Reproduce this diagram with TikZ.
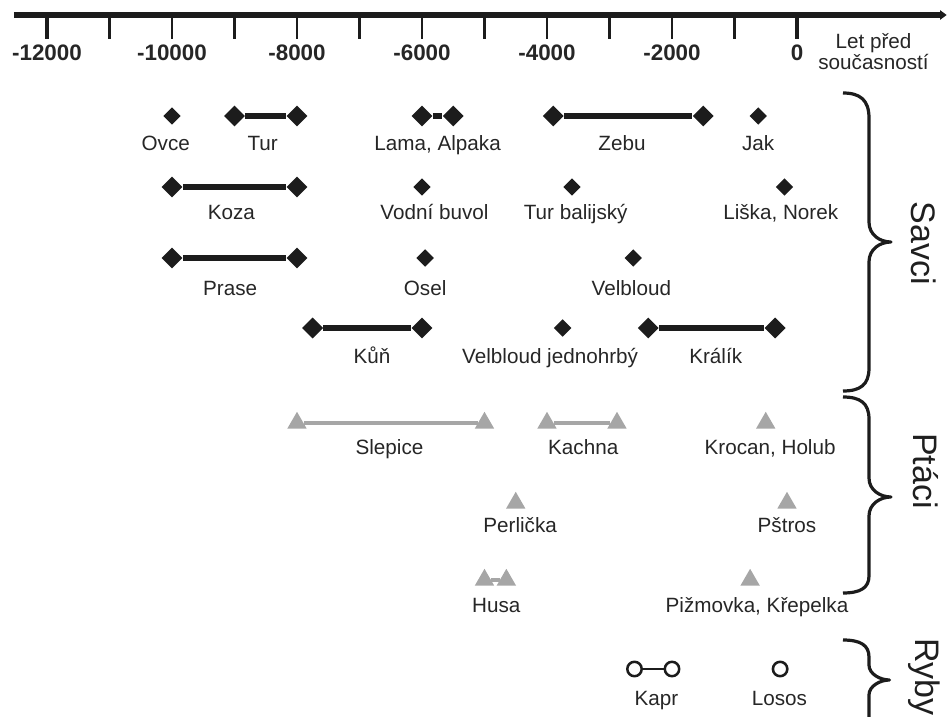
\documentclass[tikz,border=0pt]{standalone}
\usepackage{fontspec}
\setmainfont{Liberation Sans}
\usepackage{xcolor}
\usetikzlibrary{shapes.geometric,arrows.meta}

\definecolor{darkmk}{RGB}{28,28,28}
\definecolor{birdgray}{RGB}{166,166,166}
\definecolor{txtgray}{RGB}{38,38,38}

\begin{document}
\begin{tikzpicture}[x=0.046875pt, y=-0.75pt, line join=round,
	mammal/.style={diamond, fill=darkmk, inner sep=0pt, minimum size=15.8pt},
	mammalsm/.style={mammal, minimum size=13.2pt},
	fowl/.style={regular polygon, regular polygon sides=3, fill=birdgray, inner sep=0pt, minimum size=16.8pt},
	fish/.style={circle, draw=darkmk, line width=1.9pt, inner sep=0pt, minimum size=10.8pt},
	lbl/.style={text=txtgray, font=\fontsize{15.5}{15.75}\selectfont, inner sep=1pt, text height=11.2pt, text depth=0pt},
	unitlbl/.style={text=txtgray, font=\fontsize{15.5}{15.75}\selectfont, inner sep=1pt, align=center},
	ticklbl/.style={text=txtgray, font=\fontsize{16.8}{20}\selectfont\bfseries, inner sep=1pt},
	mbar/.style={darkmk, line width=4pt},
	fbar/.style={birdgray, line width=2.6pt},
	pbar/.style={darkmk, line width=2.2pt},
	grp/.style={darkmk, line width=2.4pt},
	grplbl/.style={text=black!88, font=\fontsize{25.5}{30}\selectfont, rotate=-90}]
	\useasboundingbox (-12752,0) rectangle (2400,717);
	\clip (-12752,0) rectangle (2400,717);
	% time axis
	\coordinate (axL) at (-12528,15);
	\coordinate (axR) at (2395,15);
	\draw[darkmk, line width=4.2pt, -{Triangle[length=5pt,width=7pt]}] (axL) -- (axR);
	\foreach \t in {-11000,-10000,...,-1000}
		\draw[darkmk, line width=2.2pt] (\t,15) -- (\t,39);
	\draw[darkmk, line width=3pt] (-12000,15) -- (-12000,39);
	\draw[darkmk, line width=3pt] (0,15) -- (0,39);
	\foreach \t in {-12000,-10000,...,0}
		\node[ticklbl] (t\t) at (\t,53) {\t};
	\node[unitlbl] (unit) at (1224,52) {Let před\\současností};

	% Savci
	\node[mammalsm] (ovce) at (-10000,116) {};
	\node[lbl] (ovceL) at (-10100,143) {Ovce};
	\node[mammal] (tur1) at (-9000,116) {};
	\node[mammal] (tur2) at (-8000,116) {};
	\draw[mbar] (tur1) -- (tur2);
	\node[lbl] (turL) at (-8550,143) {Tur};
	\node[mammal] (lama1) at (-6000,116) {};
	\node[mammal] (lama2) at (-5500,116) {};
	\draw[mbar] (lama1) -- (lama2);
	\node[lbl] (lamaL) at (-5750,143) {Lama, Alpaka};
	\node[mammal] (zebu1) at (-3900,116) {};
	\node[mammal] (zebu2) at (-1500,116) {};
	\draw[mbar] (zebu1) -- (zebu2);
	\node[lbl] (zebuL) at (-2800,143) {Zebu};
	\node[mammalsm] (jak) at (-620,116) {};
	\node[lbl] (jakL) at (-620,143) {Jak};

	\node[mammal] (koza1) at (-10000,187) {};
	\node[mammal] (koza2) at (-8000,187) {};
	\draw[mbar] (koza1) -- (koza2);
	\node[lbl] (kozaL) at (-9050,212) {Koza};
	\node[mammalsm] (buvol) at (-6000,187) {};
	\node[lbl] (buvolL) at (-5800,212) {Vodní buvol};
	\node[mammalsm] (balij) at (-3600,187) {};
	\node[lbl] (balijL) at (-3540,212) {Tur balijský};
	\node[mammalsm] (liska) at (-200,187) {};
	\node[lbl] (liskaL) at (-260,212) {Liška, Norek};

	\node[mammal] (prase1) at (-10000,258) {};
	\node[mammal] (prase2) at (-8000,258) {};
	\draw[mbar] (prase1) -- (prase2);
	\node[lbl] (praseL) at (-9070,288) {Prase};
	\node[mammalsm] (osel) at (-5950,258) {};
	\node[lbl] (oselL) at (-5950,288) {Osel};
	\node[mammalsm] (velb) at (-2620,258) {};
	\node[lbl] (velbL) at (-2650,288) {Velbloud};

	\node[mammal] (kun1) at (-7750,328) {};
	\node[mammal] (kun2) at (-6000,328) {};
	\draw[mbar] (kun1) -- (kun2);
	\node[lbl] (kunL) at (-6800,356) {Kůň};
	\node[mammalsm] (drom) at (-3750,328) {};
	\node[lbl] (dromL) at (-3950,356) {Velbloud jednohrbý};
	\node[mammal] (kral1) at (-2380,328) {};
	\node[mammal] (kral2) at (-350,328) {};
	\draw[mbar] (kral1) -- (kral2);
	\node[lbl] (kralL) at (-1300,356) {Králík};

	% Ptaci
	\node[fowl] (slep1) at (-8000,423) {};
	\node[fowl] (slep2) at (-5000,423) {};
	\draw[fbar] (slep1) -- (slep2);
	\node[lbl] (slepL) at (-6520,447) {Slepice};
	\node[fowl] (kach1) at (-4000,423) {};
	\node[fowl] (kach2) at (-2880,423) {};
	\draw[fbar] (kach1) -- (kach2);
	\node[lbl] (kachL) at (-3420,447) {Kachna};
	\node[fowl] (kroc) at (-500,423) {};
	\node[lbl] (krocL) at (-430,447) {Krocan, Holub};

	\node[fowl] (perl) at (-4500,503) {};
	\node[lbl] (perlL) at (-4430,525) {Perlička};
	\node[fowl] (pstr) at (-160,503) {};
	\node[lbl] (pstrL) at (-160,525) {Pštros};

	\node[fowl] (husa1) at (-5000,580) {};
	\node[fowl] (husa2) at (-4650,580) {};
	\draw[fbar] (husa1) -- (husa2);
	\node[lbl] (husaL) at (-4810,605) {Husa};
	\node[fowl] (pizm) at (-750,580) {};
	\node[lbl] (pizmL) at (-640,605) {Pižmovka, Křepelka};

	% Ryby
	\node[fish] (kapr1) at (-2600,669) {};
	\node[fish] (kapr2) at (-2000,669) {};
	\draw[pbar] (kapr1) -- (kapr2);
	\node[lbl] (kaprL) at (-2250,698) {Kapr};
	\node[fish] (losos) at (-270,669) {};
	\node[lbl] (lososL) at (-280,698) {Losos};

	% braces
	\draw[grp] (736,93) .. controls (1010,93) and (1152,100) .. (1152,118) -- (1152,222)
		.. controls (1152,235) and (1330,242) .. (1504,242)
		.. controls (1330,242) and (1152,249) .. (1152,262) -- (1152,368)
		.. controls (1152,385) and (1010,391) .. (736,391);
	\draw[grp] (736,397) .. controls (1010,397) and (1152,403) .. (1152,419) -- (1152,478)
		.. controls (1152,490) and (1330,497) .. (1504,497)
		.. controls (1330,497) and (1152,504) .. (1152,516) -- (1152,576)
		.. controls (1152,588) and (1010,593) .. (736,593);
	\draw[grp] (736,640) .. controls (1010,640) and (1152,645) .. (1152,657) -- (1152,665)
		.. controls (1152,674) and (1330,680) .. (1480,680)
		.. controls (1330,680) and (1152,686) .. (1152,695) -- (1152,730);
	\node[grplbl] (savci) at (2030,243) {Savci};
	\node[grplbl] (ptaci) at (2060,471) {Ptáci};
	\node[grplbl] (ryby) at (2040,677) {Ryby};
\end{tikzpicture}
\end{document}
